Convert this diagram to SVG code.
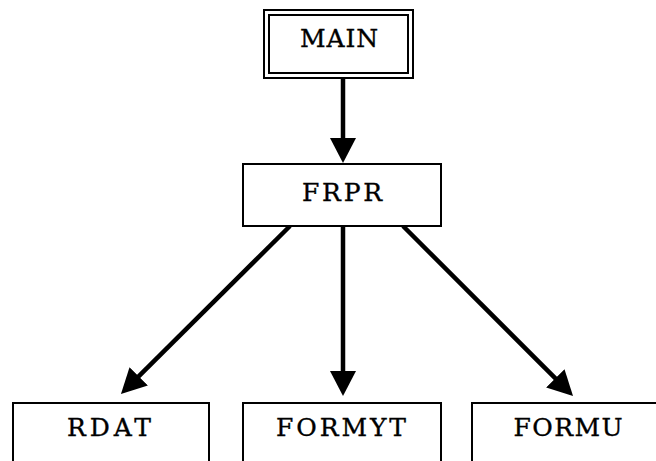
<svg xmlns="http://www.w3.org/2000/svg" width="656" height="461" viewBox="0 0 656 461">
<style>
.box{fill:#fff;stroke:#000;stroke-width:2}
.lbl{font-family:"DejaVu Serif","Liberation Serif",serif;font-size:25px;fill:#000;stroke:#000;stroke-width:0.35;text-anchor:middle}
.conn{stroke:#000;stroke-width:4.5;fill:none;marker-end:url(#ah)}
</style>
<defs>
<marker id="ah" markerUnits="userSpaceOnUse" markerWidth="26" markerHeight="26" viewBox="0 0 26 26" refX="10" refY="13" orient="auto">
<path d="M0,0 L25,13 L0,26 z" fill="#000"/>
</marker>
</defs>
<rect width="656" height="461" fill="#fff"/>
<g id="connectors">
<line class="conn" x1="343" y1="79" x2="343" y2="148"/>
<line class="conn" x1="290" y1="226" x2="131.6" y2="383.4"/>
<line class="conn" x1="343" y1="226" x2="343" y2="381"/>
<line class="conn" x1="403" y1="226" x2="562.4" y2="385.4"/>
</g>
<g id="MAIN">
<rect class="box" x="264" y="10" width="149" height="68"/>
<rect class="box" x="269" y="15" width="139" height="58"/>
<text class="lbl" x="339" y="47" textLength="78" lengthAdjust="spacing">MAIN</text>
</g>
<g id="FRPR">
<rect class="box" x="243" y="164" width="198" height="62"/>
<text class="lbl" x="342" y="201" textLength="80" lengthAdjust="spacing">FRPR</text>
</g>
<g id="RDAT">
<rect class="box" x="13" y="403" width="196" height="70"/>
<text class="lbl" x="109" y="436" textLength="84" lengthAdjust="spacing">RDAT</text>
</g>
<g id="FORMYT">
<rect class="box" x="243" y="403" width="198" height="70"/>
<text class="lbl" x="341" y="436" textLength="130" lengthAdjust="spacing">FORMYT</text>
</g>
<g id="FORMU">
<rect class="box" x="472" y="403" width="196" height="70"/>
<text class="lbl" x="568" y="436" textLength="109" lengthAdjust="spacing">FORMU</text>
</g>
</svg>
